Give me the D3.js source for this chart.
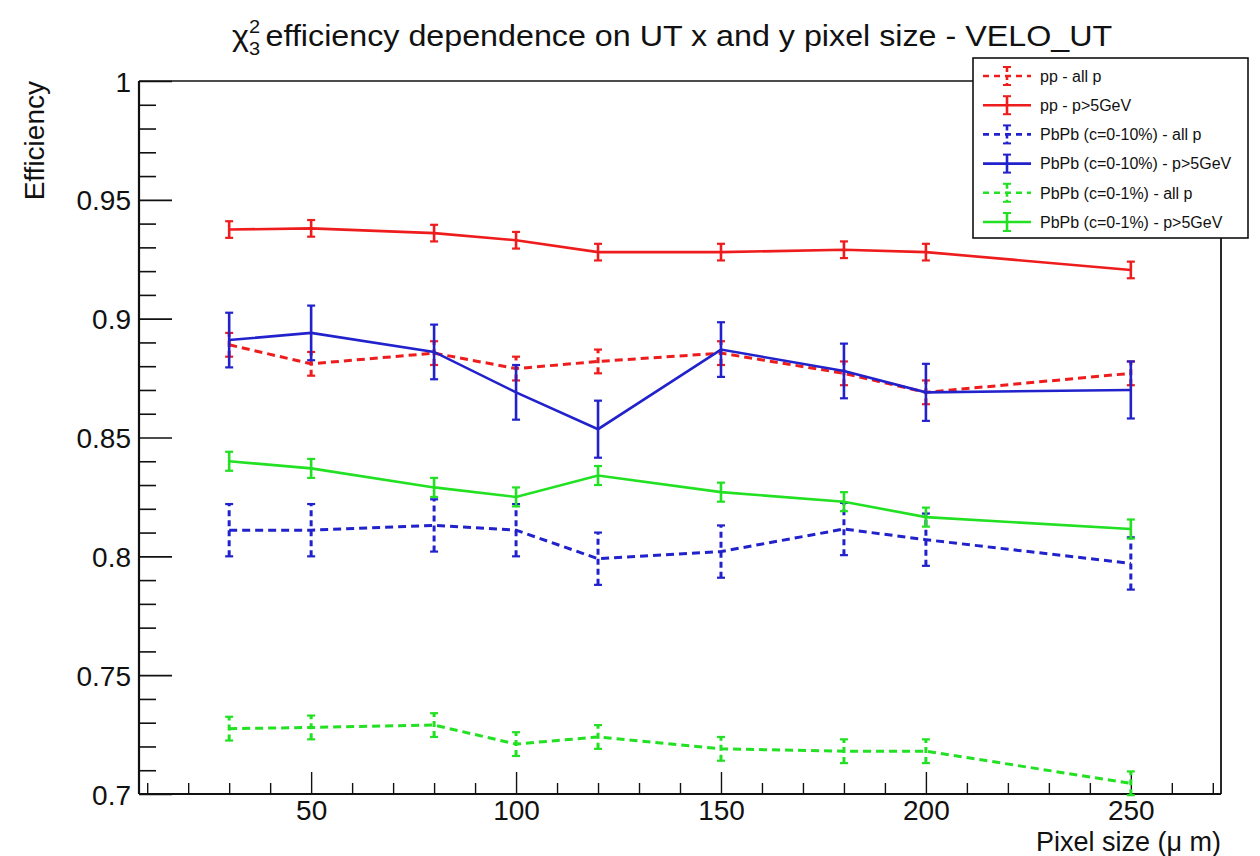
<!DOCTYPE html>
<html>
<head>
<meta charset="utf-8">
<script src="https://cdn.jsdelivr.net/npm/d3@7"></script>
<style>
  html, body { margin: 0; padding: 0; background: #fff; }
  svg { display: block; font-family: "Liberation Sans", Arial, Helvetica, sans-serif; }
</style>
</head>
<body>
<svg id="chart" width="1260" height="856"></svg>
<script>
// ---------------- data ----------------
const pixelSizes = [30, 50, 80, 100, 120, 150, 180, 200, 250];

const ppAllP      = [0.889, 0.881, 0.8855, 0.879, 0.882, 0.8855, 0.877, 0.869, 0.877];
const ppAllPErr   = [0.005, 0.005, 0.005, 0.005, 0.005, 0.005, 0.005, 0.005, 0.005];
const ppHigh      = [0.9375, 0.938, 0.936, 0.933, 0.928, 0.928, 0.929, 0.928, 0.9205];
const ppHighErr   = [0.0035, 0.0035, 0.0035, 0.0035, 0.0035, 0.0035, 0.0035, 0.0035, 0.0035];
const pb10AllP    = [0.811, 0.811, 0.813, 0.811, 0.799, 0.802, 0.8115, 0.807, 0.797];
const pb10AllPErr = [0.011, 0.011, 0.011, 0.011, 0.011, 0.011, 0.011, 0.011, 0.011];
const pb10High    = [0.891, 0.894, 0.886, 0.869, 0.8535, 0.887, 0.878, 0.869, 0.870];
const pb10HighErr = [0.0115, 0.0115, 0.0115, 0.0115, 0.012, 0.0115, 0.0115, 0.012, 0.012];
const pb1AllP     = [0.7275, 0.728, 0.729, 0.721, 0.724, 0.719, 0.718, 0.718, 0.7045];
const pb1AllPErr  = [0.005, 0.005, 0.005, 0.005, 0.005, 0.005, 0.005, 0.005, 0.005];
const pb1High     = [0.840, 0.837, 0.829, 0.825, 0.834, 0.827, 0.823, 0.8165, 0.8115];
const pb1HighErr  = [0.004, 0.004, 0.004, 0.004, 0.004, 0.004, 0.004, 0.004, 0.004];

const seriesNames = ["pp - all p", "pp - p>5GeV", "PbPb (c=0-10%) - all p",
                     "PbPb (c=0-10%) - p>5GeV", "PbPb (c=0-1%) - all p", "PbPb (c=0-1%) - p>5GeV"];
const seriesColors = ["#ee1c1c", "#ee1c1c", "#2222cc", "#2222cc", "#22e022", "#22e022"];
const seriesDashed = [true, false, true, false, true, false];
const seriesValues = [ppAllP, ppHigh, pb10AllP, pb10High, pb1AllP, pb1High];
const seriesErrors = [ppAllPErr, ppHighErr, pb10AllPErr, pb10HighErr, pb1AllPErr, pb1HighErr];

const xDomain = [8, 272];
const yDomain = [0.7, 1.0];
const xMajorTicks = [50, 100, 150, 200, 250];
const yMajorTicks = [0.7, 0.75, 0.8, 0.85, 0.9, 0.95, 1.0];
const yTickLabels = ["0.7", "0.75", "0.8", "0.85", "0.9", "0.95", "1"];

const titleText = "efficiency dependence on UT x and y pixel size - VELO_UT";
const xTitle = "Pixel size (\u03bc m)";
const yTitle = "Efficiency";

// ---------------- layout ----------------
const svg = d3.select("#chart");
const L = 139, R = 1221, T = 81, B = 794;
const x = d3.scaleLinear().domain(xDomain).range([L, R]);
const y = d3.scaleLinear().domain(yDomain).range([B, T]);
const DASH = "8,5";

// minor ticks
const xMinor = d3.range(10, 271, 10).filter(v => v % 50 !== 0);
const yMinor = d3.range(71, 100, 1).map(v => v / 100).filter(v => Math.round(v * 100) % 5 !== 0);

// Y axis
const yAxisG = svg.append("g").attr("transform", `translate(${L},0)`)
  .call(d3.axisLeft(y).tickValues(yMajorTicks).tickSizeInner(-33).tickSizeOuter(0).tickPadding(8)
    .tickFormat((d, i) => yTickLabels[i]));
yAxisG.select(".domain").remove();
yAxisG.selectAll("line").attr("stroke", "#111").attr("stroke-width", 1.6);
yAxisG.selectAll("text").style("font-size", "28px").attr("fill", "#111").attr("dy", "0.36em");

const yMinorG = svg.append("g").attr("transform", `translate(${L},0)`)
  .call(d3.axisLeft(y).tickValues(yMinor).tickSizeInner(-17).tickSizeOuter(0).tickFormat(""));
yMinorG.select(".domain").remove();
yMinorG.selectAll("line").attr("stroke", "#111").attr("stroke-width", 1.6);

// X axis
const xAxisG = svg.append("g").attr("transform", `translate(0,${B})`)
  .call(d3.axisBottom(x).tickValues(xMajorTicks).tickSizeInner(-22).tickSizeOuter(0).tickPadding(6)
    .tickFormat(d3.format("d")));
xAxisG.select(".domain").remove();
xAxisG.selectAll("line").attr("stroke", "#111").attr("stroke-width", 1.4);
xAxisG.selectAll("text").style("font-size", "28px").attr("fill", "#111");

const xMinorG = svg.append("g").attr("transform", `translate(0,${B})`)
  .call(d3.axisBottom(x).tickValues(xMinor).tickSizeInner(-11).tickSizeOuter(0).tickFormat(""));
xMinorG.select(".domain").remove();
xMinorG.selectAll("line").attr("stroke", "#111").attr("stroke-width", 1.4);

// frame
svg.append("line").attr("x1", L).attr("x2", R).attr("y1", T).attr("y2", T).attr("stroke", "#111").attr("stroke-width", 1.6);
svg.append("line").attr("x1", R).attr("x2", R).attr("y1", T).attr("y2", B).attr("stroke", "#111").attr("stroke-width", 1.8);
svg.append("line").attr("x1", L).attr("x2", R).attr("y1", B).attr("y2", B).attr("stroke", "#111").attr("stroke-width", 2.2);
svg.append("line").attr("x1", L).attr("x2", L).attr("y1", T).attr("y2", B).attr("stroke", "#111").attr("stroke-width", 2.2);

// series
const line = d3.line().x(d => x(d.x)).y(d => y(d.y));
seriesValues.forEach((vals, si) => {
  const pts = pixelSizes.map((px, i) => ({ x: px, y: vals[i], e: seriesErrors[si][i] }));
  const g = svg.append("g");
  const col = seriesColors[si];
  const dash = seriesDashed[si] ? DASH : null;
  const lw = seriesDashed[si] ? 3 : 2.6;
  g.append("path").datum(pts).attr("d", line).attr("fill", "none")
    .attr("stroke", col).attr("stroke-width", lw).attr("stroke-dasharray", dash);
  g.selectAll("line.err").data(pts).join("line")
    .attr("x1", d => x(d.x)).attr("x2", d => x(d.x))
    .attr("y1", d => y(d.y - d.e)).attr("y2", d => y(d.y + d.e))
    .attr("stroke", col).attr("stroke-width", lw).attr("stroke-dasharray", seriesDashed[si] ? "6,4" : null);
  ["lo", "hi"].forEach(k => {
    g.selectAll("line.cap" + k).data(pts).join("line")
      .attr("x1", d => x(d.x) - 4).attr("x2", d => x(d.x) + 4)
      .attr("y1", d => y(k === "lo" ? d.y - d.e : d.y + d.e))
      .attr("y2", d => y(k === "lo" ? d.y - d.e : d.y + d.e))
      .attr("stroke", col).attr("stroke-width", 2.2);
  });
});

// axis titles
svg.append("text").attr("x", R).attr("y", 851).attr("text-anchor", "end")
  .style("font-size", "27px").attr("fill", "#111").text(xTitle);
svg.append("text").attr("transform", `translate(44,${T}) rotate(-90)`).attr("text-anchor", "end")
  .style("font-size", "28px").attr("fill", "#111").text(yTitle);

// title
const tX = 232;
const title = svg.append("text").attr("x", tX).attr("y", 46).style("font-size", "29px").attr("fill", "#111");
title.append("tspan").text("\u03c7");
title.append("tspan").attr("dy", -13).style("font-size", "18px").text("2");
title.append("tspan").attr("dx", -10).attr("dy", 22).style("font-size", "18px").text("3");
title.append("tspan").attr("dx", 5).attr("dy", -9).text(titleText);
const tw = title.node().getBBox().width;
const k = 881 / tw;
title.attr("transform", `translate(${tX},0) scale(${k},1) translate(${-tX},0)`);

// legend
const lg = svg.append("g");
lg.append("rect").attr("x", 973).attr("y", 58).attr("width", 275).attr("height", 180)
  .attr("fill", "#fff").attr("stroke", "#111").attr("stroke-width", 1.6);
seriesNames.forEach((name, i) => {
  const cy = 76 + i * 29.2;
  const col = seriesColors[i];
  lg.append("line").attr("x1", 983).attr("x2", 1031).attr("y1", cy).attr("y2", cy)
    .attr("stroke", col).attr("stroke-width", 2.6).attr("stroke-dasharray", seriesDashed[i] ? "6,5" : null);
  lg.append("line").attr("x1", 1007).attr("x2", 1007).attr("y1", cy - 9).attr("y2", cy + 9)
    .attr("stroke", col).attr("stroke-width", 2.6).attr("stroke-dasharray", seriesDashed[i] ? "5,3" : null);
  [cy - 9, cy + 9].forEach(yy => lg.append("line").attr("x1", 1003).attr("x2", 1011)
    .attr("y1", yy).attr("y2", yy).attr("stroke", col).attr("stroke-width", 2));
  lg.append("text").attr("x", 1040).attr("y", cy).attr("dy", "0.36em")
    .style("font-size", "16px").attr("fill", "#111").text(name);
});
</script>
</body>
</html>
